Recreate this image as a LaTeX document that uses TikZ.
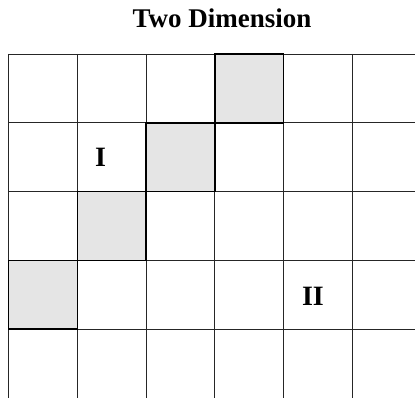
\documentclass[tikz,border=0pt]{standalone}
\usepackage{fontspec}
\setmainfont{Liberation Serif}
\begin{document}
\begin{tikzpicture}[x=1pt,y=-1pt,
  gridline/.style={draw=black!85,line width=0.9pt},
  shaded/.style={fill=black!10,draw=black,line width=1.5pt},
  lbl/.style={font=\bfseries\fontsize{28}{32}\selectfont,inner sep=0pt,anchor=base}]
\useasboundingbox (0,0) rectangle (415,398);
\clip (0,0) rectangle (415,398);
\def\cs{68.8}
% grid lines
\foreach \i in {0,...,5} {
  \draw[gridline] (8.5+\i*\cs,54) -- (8.5+\i*\cs,400);
}
\foreach \j in {0,...,4} {
  \draw[gridline] (8.5,54+\j*\cs) -- (420,54+\j*\cs);
}
% shaded cells
\foreach \c/\r in {3/0,2/1,1/2,0/3} {
  \draw[shaded] (8.5+\c*\cs,54+\r*\cs) rectangle ++(\cs,\cs);
}
\node[font=\bfseries\fontsize{27}{31}\selectfont,inner sep=0pt,anchor=base] (title) at (222,28) {Two Dimension};
\node[lbl] (one) at (100.5,166.5) {I};
\node[lbl] (two) at (313,305.5) {II};
\end{tikzpicture}
\end{document}
